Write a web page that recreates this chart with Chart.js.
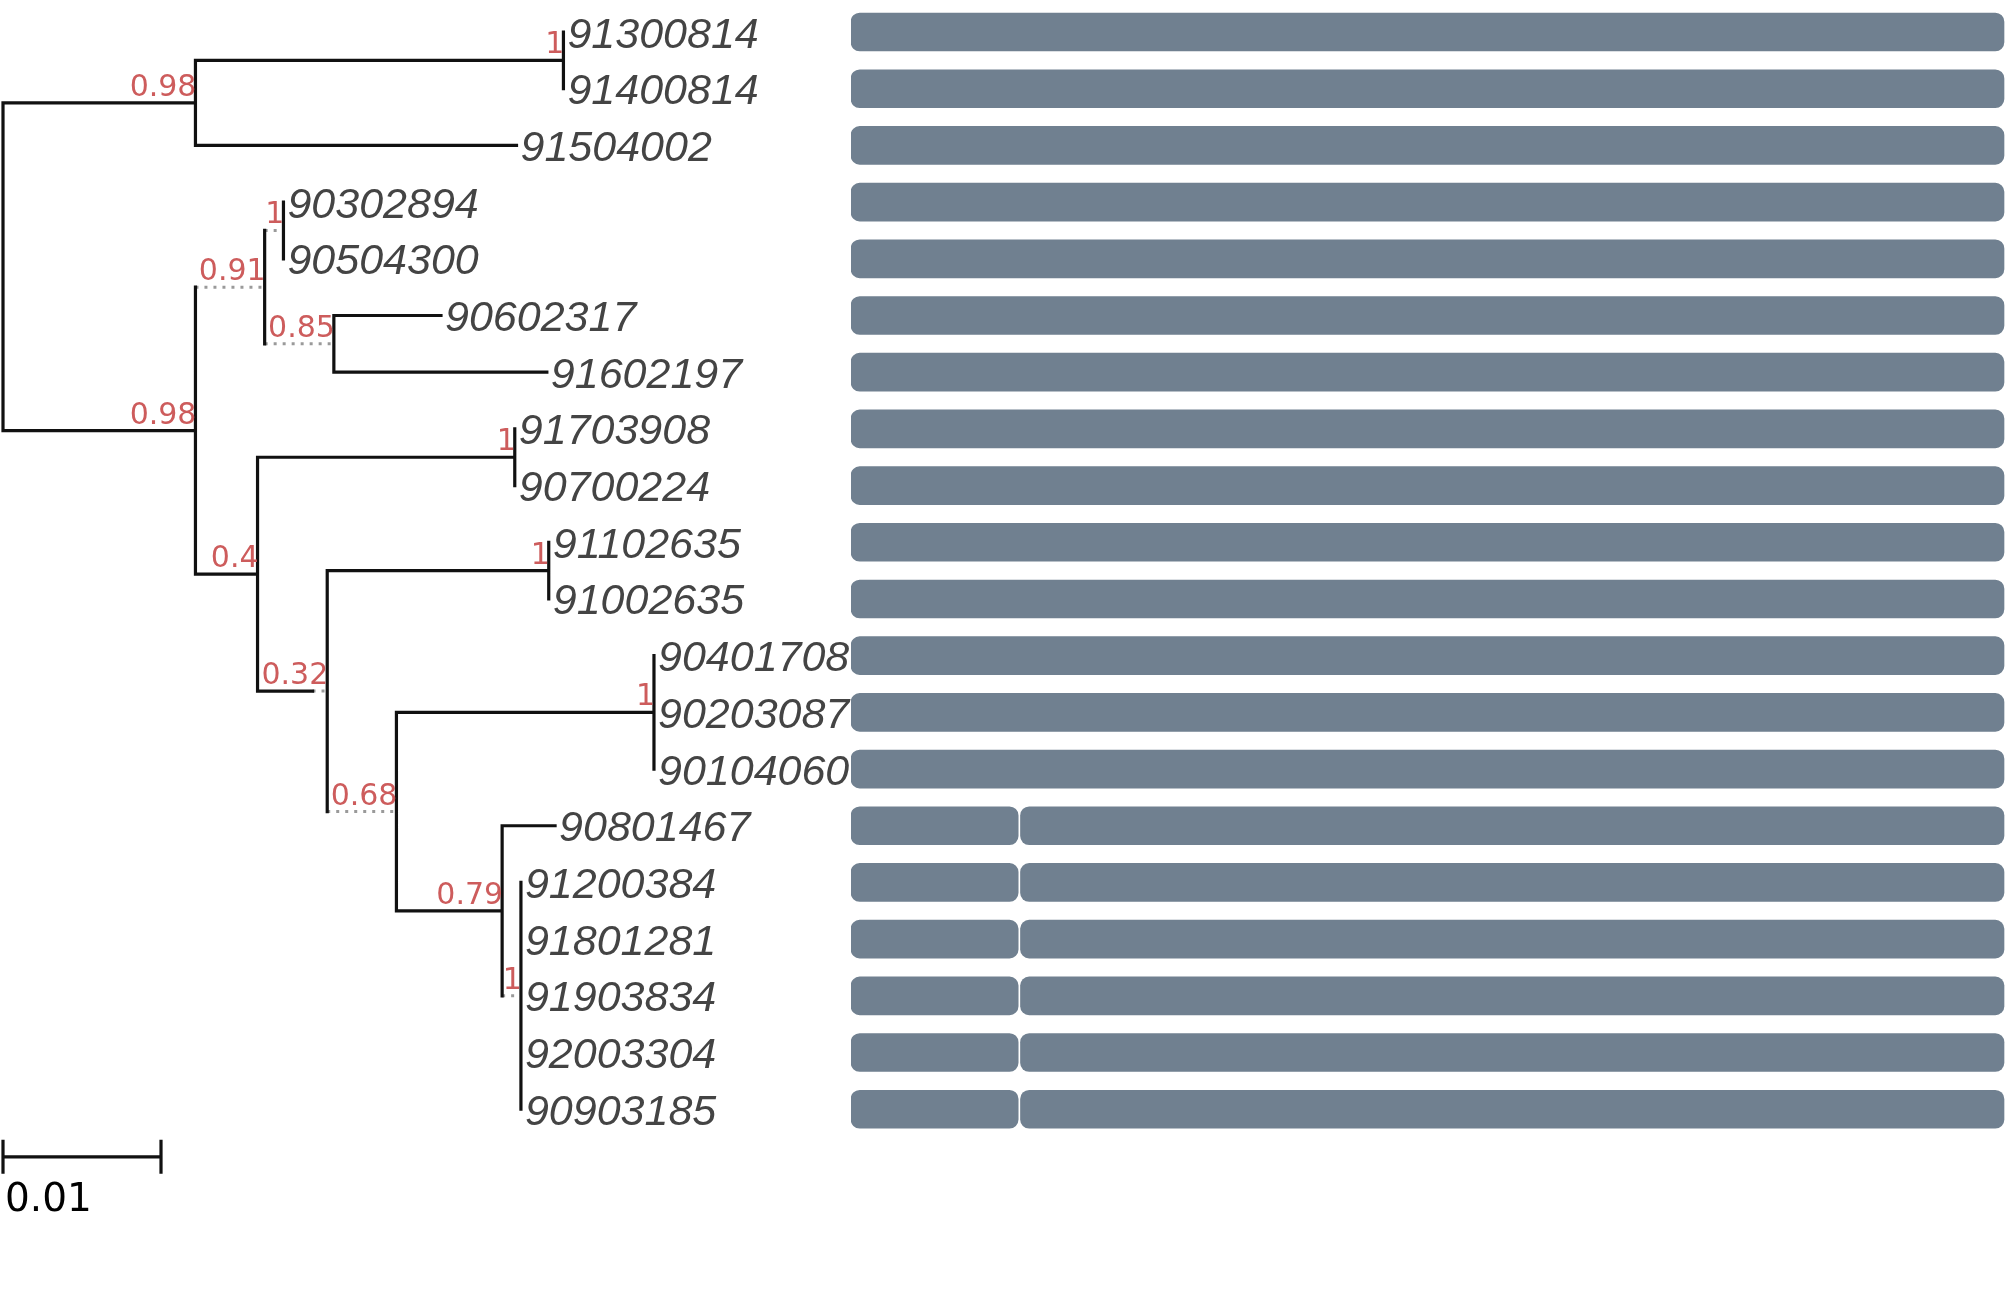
<!DOCTYPE html>
<html><head><meta charset="utf-8">
<script src="https://cdn.jsdelivr.net/npm/chart.js@4"></script>
<style>
html,body{margin:0;padding:0;background:#fff;overflow:hidden;}
#wrap{position:relative;width:2007px;height:1298px;background:#fff;}
#tree{position:absolute;left:0;top:0;}
#bars{position:absolute;left:851px;top:0;}
</style></head><body>
<div id="wrap"><canvas id="tree" width="851" height="1298"></canvas><canvas id="bars" width="1156" height="1298"></canvas></div>
<script>
// ---------- DATA ----------
const tipLabels = ['91300814','91400814','91504002','90302894','90504300','90602317','91602197','91703908','90700224','91102635','91002635','90401708','90203087','90104060','90801467','91200384','91801281','91903834','92003304','90903185'];
const tipParents = ['B','B','A','E','E','F','F','H','H','J','J','L','L','L','M','N','N','N','N','N'];
const tipDepths = [0.03547,0.03547,0.03250,0.01775,0.01775,0.02772,0.03442,0.03239,0.03239,0.03454,0.03454,0.04120,0.04120,0.04120,0.03494,0.03278,0.03278,0.03278,0.03278,0.03278];

const nodeIds      = ['root','A','B','C','D','E','F','G','H','I','J','K','L','M','N'];
const nodeParents  = [null,'root','A','root','C','D','D','C','G','G','I','I','K','K','M'];
const nodeDepths   = [0,0.01218,0.03547,0.01218,0.01656,0.01775,0.02094,0.01611,0.03239,0.02052,0.03454,0.02490,0.04120,0.03159,0.03278];
const nodeSupport  = [null,0.98,1,0.98,0.91,1,0.85,0.4,1,0.32,1,0.68,1,0.79,1];
const dottedBranches = ['D','E','F','I','K','N'];
const solidPartTo = {I: 0.01959};

const scaleBarLength = 0.01;
const scaleBarLabel = '0.01';

// domain bars (per tip row): segment 1 and optional segment 2
const seg1Start = [0,0,0,0,0,0,0,0,0,0,0,0,0,0,0,0,0,0,0,0];
const seg1End   = [1000,1000,1000,1000,1000,1000,1000,1000,1000,1000,1000,1000,1000,1000,145,145,145,145,145,145];
const seg2Start = [null,null,null,null,null,null,null,null,null,null,null,null,null,null,147,147,147,147,147,147];
const seg2End   = [null,null,null,null,null,null,null,null,null,null,null,null,null,null,1000,1000,1000,1000,1000,1000];

// ---------- TREE LAYOUT FROM DATA ----------
const depthOf = {}; nodeIds.forEach((id,i)=>depthOf[id]=nodeDepths[i]);
const parentOf = {}; nodeIds.forEach((id,i)=>parentOf[id]=nodeParents[i]);
const nodeY = {};
function childYs(id){
  const ys=[];
  tipParents.forEach((p,i)=>{ if(p===id) ys.push(i); });
  nodeIds.forEach(n=>{ if(parentOf[n]===id) ys.push(yOf(n)); });
  return ys;
}
function yOf(id){
  if(id in nodeY) return nodeY[id];
  const ys=childYs(id);
  nodeY[id]=(Math.min(...ys)+Math.max(...ys))/2;
  return nodeY[id];
}
nodeIds.forEach(yOf);

const GAP={x:NaN,y:NaN};
const solid=[], dotted=[];
function seg(arr,x1,y1,x2,y2){ arr.push({x:x1,y:y1},{x:x2,y:y2},GAP); }
tipLabels.forEach((t,i)=>{
  const px=depthOf[tipParents[i]];
  if(tipDepths[i]>px+1e-9) seg(solid,px,i,tipDepths[i],i);
});
nodeIds.forEach((id)=>{
  const y=nodeY[id], d=depthOf[id];
  const ys=childYs(id);
  seg(solid,d,Math.min(...ys),d,Math.max(...ys));
  const p=parentOf[id];
  if(p===null) return;
  const pd=depthOf[p];
  if(dottedBranches.includes(id)){
    if(solidPartTo[id]!==undefined){
      seg(solid,pd,y,solidPartTo[id],y);
      seg(dotted,solidPartTo[id],y,d,y);
    } else seg(dotted,pd,y,d,y);
  } else seg(solid,pd,y,d,y);
});
const sbY = tipLabels.length - 1 + 0.84;
const scaleBar=[];
seg(scaleBar,0,sbY,scaleBarLength,sbY);
seg(scaleBar,0,sbY-0.3,0,sbY+0.3);
seg(scaleBar,scaleBarLength,sbY-0.3,scaleBarLength,sbY+0.3);

const Y_MIN=-0.565, Y_MAX=22.33;

const textPlugin={
  id:'treeText',
  afterDatasetsDraw(chart){
    const ctx=chart.ctx, xs=chart.scales.x, ys=chart.scales.y;
    ctx.save();
    ctx.font='italic 43px "Liberation Sans", Arial, sans-serif';
    ctx.fillStyle='#444444';
    ctx.textAlign='left'; ctx.textBaseline='alphabetic';
    tipLabels.forEach((t,i)=>{
      ctx.fillText(t, xs.getPixelForValue(tipDepths[i])+4, ys.getPixelForValue(i)+15.5);
    });
    ctx.font='30px "DejaVu Sans", sans-serif';
    ctx.fillStyle='#cd5c5c';
    ctx.textAlign='right';
    nodeIds.forEach((id,i)=>{
      if(nodeSupport[i]===null) return;
      ctx.fillText(String(nodeSupport[i]), xs.getPixelForValue(nodeDepths[i])+1, ys.getPixelForValue(nodeY[id])-7);
    });
    ctx.font='39px "DejaVu Sans", sans-serif';
    ctx.fillStyle='#000';
    ctx.textAlign='left';
    ctx.fillText(scaleBarLabel, xs.getPixelForValue(0)+2, ys.getPixelForValue(sbY)+54);
    ctx.restore();
  }
};

new Chart(document.getElementById('tree'),{
  type:'line',
  data:{datasets:[
    {data:solid,borderColor:'#111111',borderWidth:3.2,borderCapStyle:'square'},
    {data:dotted,borderColor:'#9a9a9a',borderWidth:3,borderDash:[3,6],borderCapStyle:'butt'},
    {data:scaleBar,borderColor:'#111111',borderWidth:3.2,borderCapStyle:'butt'}
  ]},
  options:{
    responsive:false,animation:false,devicePixelRatio:1,
    layout:{padding:0},
    elements:{point:{radius:0},line:{tension:0,fill:false}},
    spanGaps:false,
    plugins:{legend:{display:false},tooltip:{enabled:false}},
    scales:{
      x:{type:'linear',min:-0.00019,max:0.05367,display:false,offset:false},
      y:{type:'linear',min:Y_MIN,max:Y_MAX,reverse:true,display:false,offset:false}
    }
  },
  plugins:[textPlugin]
});

// ---------- BARS ----------
const d1=[], d2=[];
tipLabels.forEach((t,i)=>{
  if(seg1Start[i]!==null) d1.push({x:[seg1Start[i],seg1End[i]],y:i});
  if(seg2Start[i]!==null) d2.push({x:[seg2Start[i],seg2End[i]],y:i});
});
new Chart(document.getElementById('bars'),{
  type:'bar',
  data:{datasets:[
    {data:d1,backgroundColor:'#708090',borderRadius:9,borderSkipped:false,barThickness:38,grouped:false},
    {data:d2,backgroundColor:'#708090',borderRadius:9,borderSkipped:false,barThickness:38,grouped:false}
  ]},
  options:{
    indexAxis:'y',responsive:false,animation:false,devicePixelRatio:1,
    layout:{padding:0},
    plugins:{legend:{display:false},tooltip:{enabled:false}},
    scales:{
      x:{type:'linear',min:0,max:1002.6,display:false,offset:false},
      y:{type:'linear',min:Y_MIN,max:Y_MAX,reverse:true,display:false,offset:false,grid:{offset:false}}
    }
  }
});
</script>
</body></html>
